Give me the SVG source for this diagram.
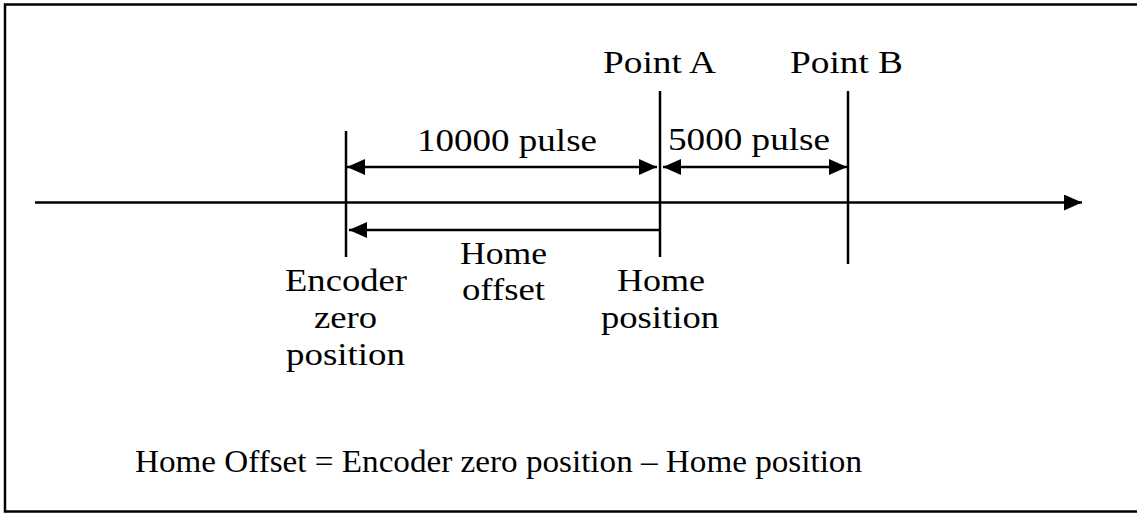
<svg xmlns="http://www.w3.org/2000/svg" width="1137" height="513" viewBox="0 0 1137 513">
<style>
.t{font-family:"Liberation Serif","Times New Roman",serif;font-size:32px;fill:#000;text-anchor:middle}
.l{stroke:#000;stroke-width:2.5;fill:none}
</style>
<defs>
<marker id="ah" viewBox="0 0 18 16" refX="18" refY="8" markerWidth="18" markerHeight="16" markerUnits="userSpaceOnUse" orient="auto-start-reverse">
<path d="M0,0 L18,8 L0,16 Z" fill="#000"/>
</marker>
</defs>
<rect x="5" y="4.5" width="1140" height="507" fill="#fff" stroke="#000" stroke-width="2.5"/>
<g id="connectors">
<line class="l" x1="35" y1="202.5" x2="1082" y2="202.5" marker-end="url(#ah)"/>
<line class="l" x1="346" y1="131" x2="346" y2="257"/>
<line class="l" x1="660" y1="91" x2="660" y2="257"/>
<line class="l" x1="848" y1="91" x2="848" y2="264"/>
<line class="l" x1="347" y1="167" x2="657" y2="167" marker-start="url(#ah)" marker-end="url(#ah)"/>
<line class="l" x1="663" y1="167" x2="847" y2="167" marker-start="url(#ah)" marker-end="url(#ah)"/>
<line class="l" x1="660" y1="230" x2="349" y2="230" marker-end="url(#ah)"/>
</g>
<g id="pointA"><text class="t" x="659.5" y="73" textLength="113" lengthAdjust="spacingAndGlyphs">Point A</text></g>
<g id="pointB"><text class="t" x="846.5" y="73" textLength="113" lengthAdjust="spacingAndGlyphs">Point B</text></g>
<g id="pulse10000"><text class="t" x="507" y="151" textLength="180" lengthAdjust="spacingAndGlyphs">10000 pulse</text></g>
<g id="pulse5000"><text class="t" x="749" y="150" textLength="162" lengthAdjust="spacingAndGlyphs">5000 pulse</text></g>
<g id="homeOffset">
<text class="t" x="503.5" y="264" textLength="87" lengthAdjust="spacingAndGlyphs">Home</text>
<text class="t" x="503.5" y="300" textLength="83" lengthAdjust="spacingAndGlyphs">offset</text>
</g>
<g id="encoderZero">
<text class="t" x="346" y="291" textLength="122" lengthAdjust="spacingAndGlyphs">Encoder</text>
<text class="t" x="345.5" y="328" textLength="63" lengthAdjust="spacingAndGlyphs">zero</text>
<text class="t" x="345.5" y="365" textLength="119" lengthAdjust="spacingAndGlyphs">position</text>
</g>
<g id="homePosition">
<text class="t" x="661" y="291" textLength="88" lengthAdjust="spacingAndGlyphs">Home</text>
<text class="t" x="660" y="328" textLength="118" lengthAdjust="spacingAndGlyphs">position</text>
</g>
<g id="formula"><text class="t" x="498.5" y="472" textLength="727" lengthAdjust="spacingAndGlyphs">Home Offset = Encoder zero position – Home position</text></g>
</svg>
